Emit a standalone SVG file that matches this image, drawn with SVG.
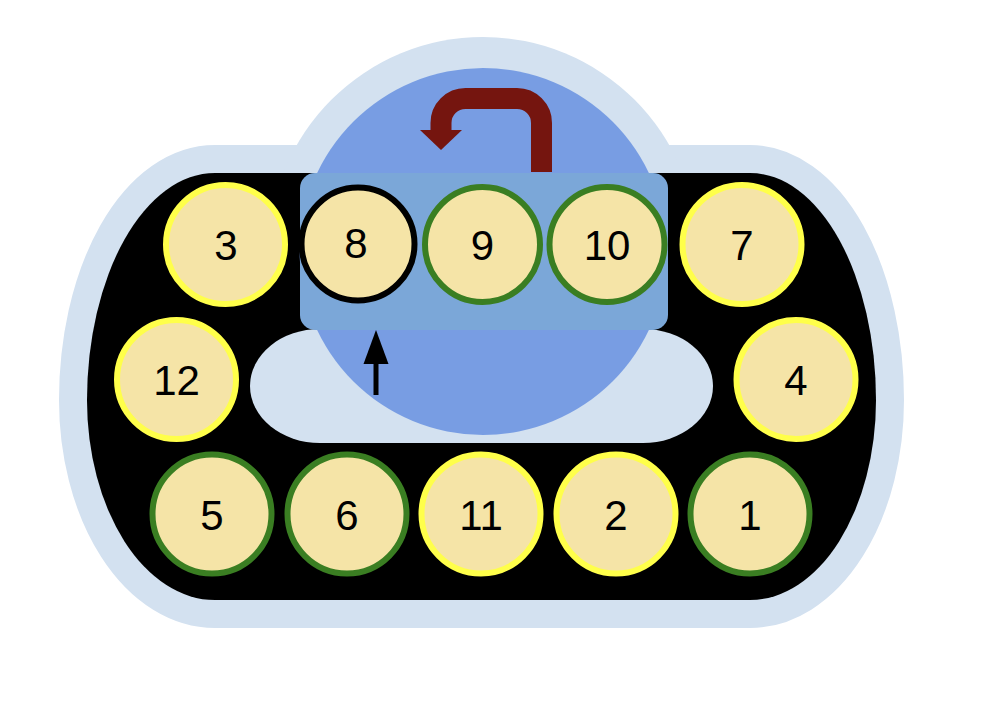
<svg xmlns="http://www.w3.org/2000/svg" width="986" height="702" viewBox="0 0 986 702">
<style>
.pale{fill:#d3e1f0}
.disc{fill:#f5e4a7;stroke-width:6}
.y{stroke:#ffff4a}
.g{stroke:#3a7e22}
.k{stroke:#000}
.lbl{font-family:"Liberation Sans",Arial,sans-serif;font-size:42px;fill:#000;text-anchor:middle}
</style>
<rect width="986" height="702" fill="#fff"/>
<g id="housing">
<path d="M215,173 H750 A126,227 0 0 1 876,400 A126,200 0 0 1 750,600 H215 A128,200 0 0 1 87,400 A128,227 0 0 1 215,173 Z" fill="none" stroke="#d3e1f0" stroke-width="56" stroke-linejoin="round"/>
<circle class="pale" cx="483" cy="251.5" r="214.5"/>
<path d="M215,173 H750 A126,227 0 0 1 876,400 A126,200 0 0 1 750,600 H215 A128,200 0 0 1 87,400 A128,227 0 0 1 215,173 Z" fill="#000"/>
<rect class="pale" x="250" y="329" width="463" height="114" rx="70" ry="57"/>
<circle cx="483" cy="251.5" r="183.5" fill="#789de3"/>
<rect x="300" y="173" width="368" height="157" rx="15" fill="#7ba7d8"/>
</g>
<g id="n3"><circle class="disc y" cx="225.5" cy="244.5" r="59.5"/><text class="lbl" x="226" y="260">3</text></g>
<g id="n8"><circle class="disc k" cx="358" cy="244" r="56.5"/><text class="lbl" x="356" y="258">8</text></g>
<g id="n9"><circle class="disc g" cx="482.5" cy="244.5" r="57.5"/><text class="lbl" x="482.5" y="260">9</text></g>
<g id="n10"><circle class="disc g" cx="607" cy="244.5" r="57.5"/><text class="lbl" x="607" y="260">10</text></g>
<g id="n7"><circle class="disc y" cx="742" cy="244.5" r="59.5"/><text class="lbl" x="742" y="260">7</text></g>
<g id="n12"><circle class="disc y" cx="176.5" cy="379.5" r="59.5"/><text class="lbl" x="176.5" y="395">12</text></g>
<g id="n4"><circle class="disc y" cx="796" cy="379.5" r="59.5"/><text class="lbl" x="796" y="395">4</text></g>
<g id="n5"><circle class="disc g" cx="212" cy="514" r="59.5"/><text class="lbl" x="212" y="529.5">5</text></g>
<g id="n6"><circle class="disc g" cx="347" cy="514" r="59.5"/><text class="lbl" x="347" y="529.5">6</text></g>
<g id="n11"><circle class="disc y" cx="481" cy="514" r="59.5"/><text class="lbl" x="481" y="529.5">11</text></g>
<g id="n2"><circle class="disc y" cx="616" cy="514" r="59.5"/><text class="lbl" x="616" y="529.5">2</text></g>
<g id="n1"><circle class="disc g" cx="750" cy="514" r="59.5"/><text class="lbl" x="750" y="529.5">1</text></g>
<g id="connectors">
<path d="M541.5,172 V123 A24.5,24.5 0 0 0 517,98.5 H465.5 A24.5,24.5 0 0 0 441,123 V131" fill="none" stroke="#75150f" stroke-width="21"/>
<polygon points="420,130 462,130 441,150" fill="#75150f"/>
<line x1="376" y1="395" x2="376" y2="358" stroke="#000" stroke-width="5"/>
<polygon points="376,330 363.5,364 388.5,364" fill="#000"/>
</g>
</svg>
